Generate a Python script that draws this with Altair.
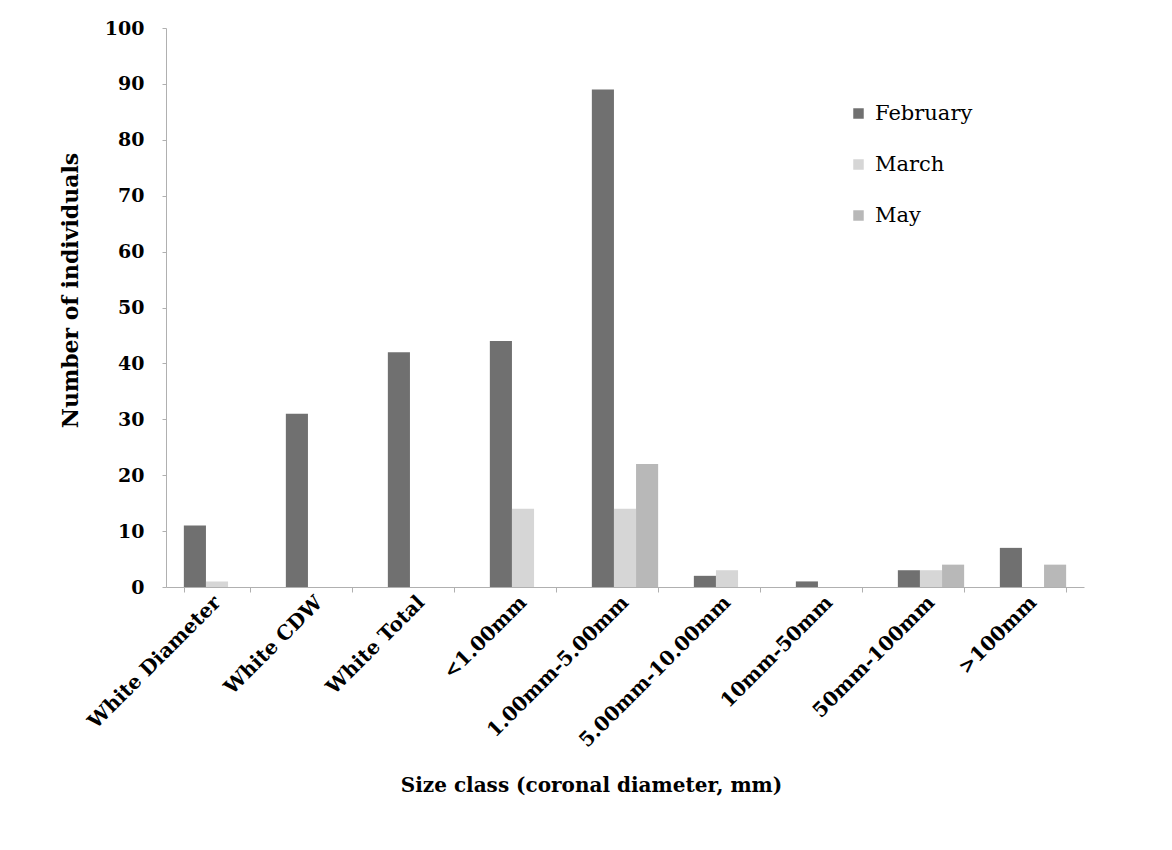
import altair as alt
import pandas as pd

categories = ["White Diameter", "White CDW", "White Total", "<1.00mm", "1.00mm-5.00mm",
              "5.00mm-10.00mm", "10mm-50mm", "50mm-100mm", ">100mm"]
months = ["February", "March", "May"]
february = [11, 31, 42, 44, 89, 2, 1, 3, 7]
march = [1, 0, 0, 14, 14, 3, 0, 3, 0]
may = [0, 0, 0, 0, 22, 0, 0, 4, 4]
colors = ["#707070", "#d6d6d6", "#b8b8b8"]

rows = []
for i, c in enumerate(categories):
    for m, vals in zip(months, [february, march, may]):
        rows.append({"Size class": c, "Month": m, "Count": vals[i]})
df = pd.DataFrame(rows)

FONT = "DejaVu Serif"

chart = alt.Chart(df).mark_bar().encode(
    x=alt.X("Size class:N", sort=categories,
            scale=alt.Scale(paddingInner=0.35, paddingOuter=0.175),
            axis=alt.Axis(title="Size class (coronal diameter, mm)", labelAngle=-45,
                          labelAlign="right", labelBaseline="middle",
                          labelPadding=7, tickBand="extent", tickSize=5, labelLimit=0,
                          labelFontSize=20, labelFontWeight="bold", labelFont=FONT,
                          labelColor="#000", titleFont=FONT, titleFontSize=20,
                          titleFontWeight="bold", titleColor="#000",
                          titleX=425, titleY=198, titleBaseline="middle",
                          domainColor="#b0b0b0", tickColor="#b0b0b0")),
    xOffset=alt.XOffset("Month:N", sort=months, scale=alt.Scale(paddingInner=0, paddingOuter=0)),
    y=alt.Y("Count:Q", scale=alt.Scale(domain=[0, 100], nice=False),
            axis=alt.Axis(title="Number of individuals", values=list(range(0, 101, 10)),
                          grid=False, tickSize=4, labelPadding=18,
                          labelFontSize=19, labelFontWeight="bold", labelFont=FONT,
                          labelColor="#000", titleFont=FONT, titleFontSize=22,
                          titleFontWeight="bold", titleColor="#000",
                          titleX=-96, titleY=262, titleBaseline="middle",
                          domainColor="#b0b0b0", tickColor="#b0b0b0")),
    color=alt.Color("Month:N", sort=months,
                    scale=alt.Scale(domain=months, range=colors),
                    legend=alt.Legend(title=None, orient="none", legendX=682, legendY=75,
                                      symbolType="square", symbolSize=110,
                                      symbolStrokeWidth=0,
                                      labelFont=FONT, labelFontSize=21, labelColor="#000",
                                      rowPadding=29, labelOffset=6)),
).properties(
    width=918, height=559,
    padding={"left": 158, "top": 20, "right": 70, "bottom": 230},
    autosize=alt.AutoSizeParams(type="none"),
).configure_view(stroke=None)

chart.save("out.html", embed_options={"renderer": "svg", "actions": False})
